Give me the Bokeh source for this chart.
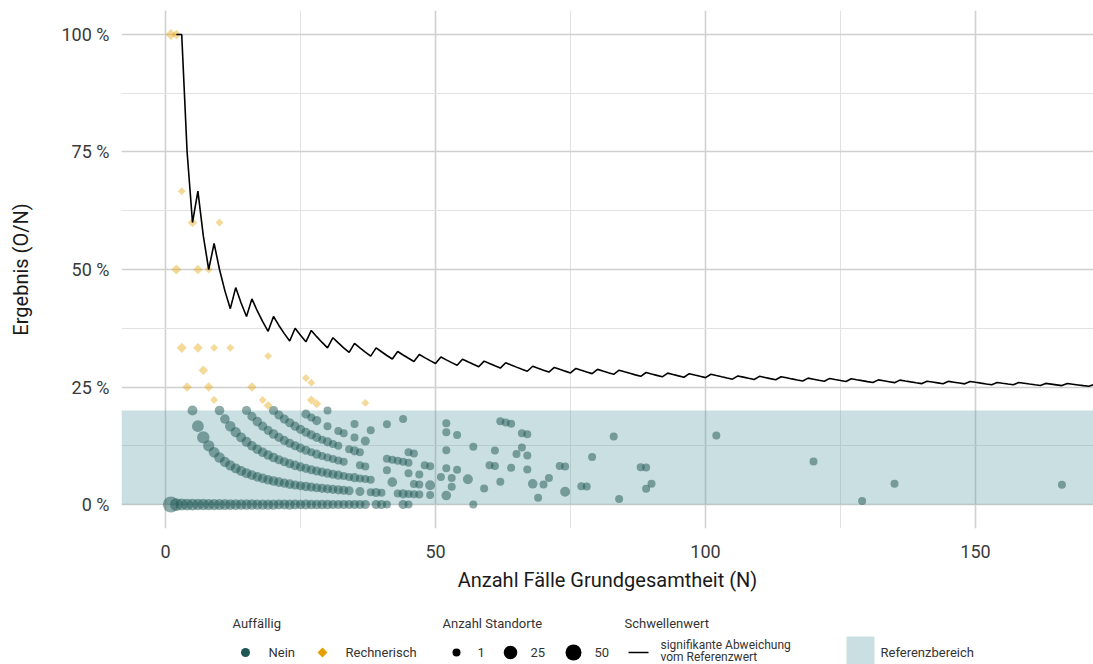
import numpy as np
from bokeh.plotting import figure
from bokeh.models import Range1d, FixedTicker, PrintfTickFormatter, BoxAnnotation, ColumnDataSource
from bokeh.layouts import column
from bokeh.embed import file_html
from bokeh.resources import INLINE
from bokeh.core.properties import value

FONT = "Roboto"
GREEN = "#1e5753"
ORANGE = "#E69F00"
BAND = "#5f9ea3"

# ---------------- data ----------------
# threshold line (significant deviation): critical count k, valid from N = start
thr_k = [2, 3, 4, 5, 6, 7, 8, 9, 10, 11, 12, 13, 14, 15, 16, 17, 18, 19, 20, 21, 22,
         23, 24, 25, 26, 27, 28, 29, 30, 31, 32, 33, 34, 35, 36, 37, 38, 39, 40, 41, 42, 43, 44]
thr_start = [2, 3, 6, 9, 13, 16, 20, 24, 27, 31, 35, 39, 43, 47, 51, 55, 59, 63, 68, 72, 76,
             80, 84, 89, 93, 97, 101, 106, 110, 114, 119, 123, 127, 132, 136, 141, 145, 149, 154, 158, 163, 167, 172]
thr_last = 174

# reference range (%)
ref_low, ref_high = 0, 20

# Auffaellig = Nein : cases N per observed count O, with number of sites
n_o0 = [1, 2, 3, 4, 5, 6, 7, 8, 9, 10, 11, 12, 13, 14, 15, 16, 17, 18, 19, 20, 21, 22, 23, 24, 25,
        26, 27, 28, 29, 30, 31, 32, 33, 34, 35, 36, 37, 39, 40, 41, 44, 45, 57]
s_o0 = [50, 18, 14, 12, 12, 10, 10, 9, 9, 8, 8, 7, 7, 6, 6, 6, 5, 5, 5, 5, 4, 4, 5, 4, 3,
        4, 3, 3, 3, 3, 2, 2, 2, 2, 2, 2, 2, 2, 2, 1, 2, 1, 1]
n_o1 = [5, 6, 7, 8, 9, 10, 11, 12, 13, 14, 15, 16, 17, 18, 19, 20, 21, 22, 23, 24, 25, 26, 27, 28,
        29, 30, 31, 32, 33, 34, 36, 38, 39, 40, 43, 44, 45, 46, 47, 49, 52, 69, 84, 129]
s_o1 = [4, 12, 16, 9, 7, 6, 5, 5, 4, 4, 4, 3, 3, 3, 3, 3, 3, 2, 3, 2, 2, 3, 2, 2,
        2, 2, 2, 2, 2, 2, 2, 1, 2, 1, 1, 2, 1, 1, 1, 1, 3, 1, 1, 1]
n_o2 = [10, 11, 12, 13, 14, 15, 16, 17, 18, 19, 20, 21, 22, 23, 24, 25, 26, 27, 28, 29, 30, 31,
        32, 33, 34, 35, 36, 37, 38, 42, 46, 47, 49, 53, 59, 74]
s_o2 = [3, 3, 6, 5, 4, 4, 3, 3, 3, 3, 3, 2, 2, 2, 3, 2, 2, 2, 2, 2, 2, 2,
        2, 1, 1, 2, 1, 1, 1, 3, 1, 1, 4, 1, 1, 4]
n_o3 = [15, 16, 17, 18, 19, 20, 21, 22, 23, 24, 25, 26, 27, 28, 29, 30, 31, 32, 33, 36, 37, 41,
        45, 47, 51, 53, 56, 62, 68, 70, 77, 78, 89]
s_o3 = [2, 2, 3, 2, 2, 3, 2, 2, 2, 2, 2, 2, 1, 2, 1, 1, 1, 1, 1, 1, 1, 1,
        1, 1, 1, 1, 4, 1, 3, 1, 1, 1, 1]
n_o4 = [20, 21, 22, 23, 24, 25, 26, 27, 28, 29, 30, 31, 32, 34, 35, 36, 41, 42, 43, 44, 45, 48,
        49, 52, 54, 71, 90]
s_o4 = [2, 2, 2, 2, 2, 2, 2, 2, 2, 1, 2, 1, 1, 1, 2, 1, 1, 1, 1, 1, 1, 1,
        1, 1, 1, 1, 1]
n_o5 = [26, 27, 28, 30, 32, 33, 35, 37, 45, 46, 60, 61, 64, 67]
s_o5 = [2, 1, 2, 1, 1, 1, 1, 2, 1, 1, 1, 1, 1, 1]
n_o6 = [30, 35, 38, 52, 73, 74, 135]
s_o6 = [1, 1, 1, 1, 1, 1, 1]
n_o7 = [41, 57, 61, 65, 67, 88, 89, 166]
s_o7 = [1, 1, 1, 1, 1, 1, 1, 1]
n_o8 = [44, 52, 54, 66, 79]
s_o8 = [1, 1, 1, 1, 1]
n_o9 = [52]
s_o9 = [1]
n_o10 = [66, 67]
s_o10 = [1, 1]
n_o11 = [62, 63, 64, 120]
s_o11 = [1, 1, 1, 1]
n_o12 = [83]
s_o12 = [1]
n_o15 = [102]
s_o15 = [1]

# Auffaellig = Rechnerisch
rech_n = [1, 2, 2, 3, 3, 4, 5, 6, 6, 7, 8, 8, 9, 9, 10, 12, 16, 18, 19, 19, 26, 27, 27, 28, 37]
rech_o = [1, 2, 1, 2, 1, 1, 3, 3, 2, 2, 4, 2, 3, 2, 6, 4, 4, 4, 6, 4, 7, 7, 6, 6, 8]
rech_sites = [8, 3, 5, 1, 5, 3, 3, 3, 4, 3, 1, 3, 1, 1, 1, 1, 3, 1, 1, 2, 1, 1, 2, 2, 1]

size_legend = [1, 25, 50]

x_ticks = [0, 50, 100, 150]
x_minor = [25, 75, 125]
y_ticks = [0, 25, 50, 75, 100]
y_minor = [12.5, 37.5, 62.5, 87.5]


def diam(c):
    return 8 + 8 * np.sqrt((np.asarray(c, dtype=float) - 1) / 49.0)


# ---------------- build sources ----------------
groups = [(0, n_o0, s_o0), (1, n_o1, s_o1), (2, n_o2, s_o2), (3, n_o3, s_o3), (4, n_o4, s_o4),
          (5, n_o5, s_o5), (6, n_o6, s_o6), (7, n_o7, s_o7), (8, n_o8, s_o8), (9, n_o9, s_o9),
          (10, n_o10, s_o10), (11, n_o11, s_o11), (12, n_o12, s_o12), (15, n_o15, s_o15)]
gx, gy, gs = [], [], []
for o, ns, ss in groups:
    for n, s in zip(ns, ss):
        gx.append(n)
        gy.append(100.0 * o / n)
        gs.append(s)
nein_src = ColumnDataSource(dict(x=gx, y=gy, size=list(diam(gs))))

rech_src = ColumnDataSource(dict(
    x=rech_n,
    y=[100.0 * o / n for o, n in zip(rech_o, rech_n)],
    size=list(diam(rech_sites) * 0.7),
))

tx, ty = [], []
bounds = thr_start + [thr_last]
for k, a, b in zip(thr_k, bounds[:-1], bounds[1:]):
    for n in range(a, b):
        tx.append(n)
        ty.append(100.0 * k / n)

# ---------------- main figure ----------------
p = figure(width=1093, height=600, x_range=Range1d(-8.15, 171.85), y_range=Range1d(-5.1, 105.1),
           output_backend="svg", toolbar_location=None,
           min_border_left=121, min_border_right=0, min_border_top=10, min_border_bottom=72)
p.outline_line_color = None

p.xaxis.ticker = FixedTicker(ticks=x_ticks, minor_ticks=x_minor)
p.yaxis.ticker = FixedTicker(ticks=y_ticks, minor_ticks=y_minor)
p.yaxis.formatter = PrintfTickFormatter(format="%d %%")

for ax in (p.xaxis, p.yaxis):
    ax.axis_line_color = None
    ax.major_tick_line_color = None
    ax.minor_tick_line_color = None
    ax.major_label_text_font = FONT
    ax.major_label_text_font_size = "18px"
    ax.major_label_text_color = "#3a3a3a"
    ax.axis_label_text_font = FONT
    ax.axis_label_text_font_size = "20px"
    ax.axis_label_text_font_style = "normal"
    ax.axis_label_text_color = "#1a1a1a"

p.xaxis.axis_label = "Anzahl Fälle Grundgesamtheit (N)"
p.yaxis.axis_label = "Ergebnis (O/N)"
p.xaxis.major_label_standoff = 10
p.yaxis.major_label_standoff = 6
p.xaxis.axis_label_standoff = 7
p.yaxis.axis_label_standoff = 26

for g in (p.xgrid, p.ygrid):
    g.grid_line_color = "#d0d0d0"
    g.grid_line_width = 1.6
    g.minor_grid_line_color = "#e2e2e2"
    g.minor_grid_line_width = 1.0

band = BoxAnnotation(bottom=ref_low, top=ref_high, fill_color=BAND, fill_alpha=0.33,
                     line_color=None, level="underlay")
p.add_layout(band)

p.scatter(x="x", y="y", size="size", source=nein_src, marker="circle",
          fill_color=GREEN, fill_alpha=0.5, line_color=None)
p.scatter(x="x", y="y", size="size", source=rech_src, marker="square", angle=np.pi / 4,
          fill_color=ORANGE, fill_alpha=0.4, line_color=None)
p.line(tx, ty, line_color="black", line_width=1.6)

# ---------------- legend figure ----------------
# x coordinates here are page pixels (frame aligned with the main frame: 121..1093)
lf = figure(width=1093, height=64, x_range=Range1d(121, 1093), y_range=Range1d(64, 0),
            output_backend="svg", toolbar_location=None,
            min_border_left=121, min_border_right=0, min_border_top=0, min_border_bottom=0)
lf.axis.visible = False
lf.grid.visible = False
lf.outline_line_color = None

TY, IY = 23, 52
tkw = dict(text_font=value(FONT), text_font_size="13px", text_baseline="middle",
           text_align="left", text_color="#333333")

lf.text(x=[232, 442, 624], y=[TY, TY, TY], text=["Auffällig", "Anzahl Standorte", "Schwellenwert"], **tkw)
lf.scatter(x=[245], y=[IY], size=9, marker="circle", fill_color=GREEN, line_color=None)
lf.text(x=[268], y=[IY], text=["Nein"], **tkw)
lf.scatter(x=[322], y=[IY], size=7, marker="square", angle=np.pi / 4, fill_color=ORANGE, line_color=None)
lf.text(x=[345], y=[IY], text=["Rechnerisch"], **tkw)

lf.scatter(x=[456, 510, 573], y=[IY] * 3, size=list(diam(size_legend)), marker="circle",
           fill_color="black", line_color=None)
lf.text(x=[477, 530, 594], y=[IY] * 3, text=[str(s) for s in size_legend], **tkw)

lf.segment(x0=[628], y0=[IY], x1=[648], y1=[IY], line_color="black", line_width=1.6)
kw2 = dict(tkw)
kw2["text_font_size"] = "12px"
lf.text(x=[660, 660], y=[44, 56.5], text=["signifikante Abweichung", "vom Referenzwert"], **kw2)

lf.quad(left=[846], right=[874], top=[36], bottom=[68], fill_color=BAND, fill_alpha=0.33, line_color=None)
lf.text(x=[880], y=[IY], text=["Referenzbereich"], **tkw)

layout = column(p, lf, spacing=0)
open("out.html", "w").write(file_html(layout, INLINE))
